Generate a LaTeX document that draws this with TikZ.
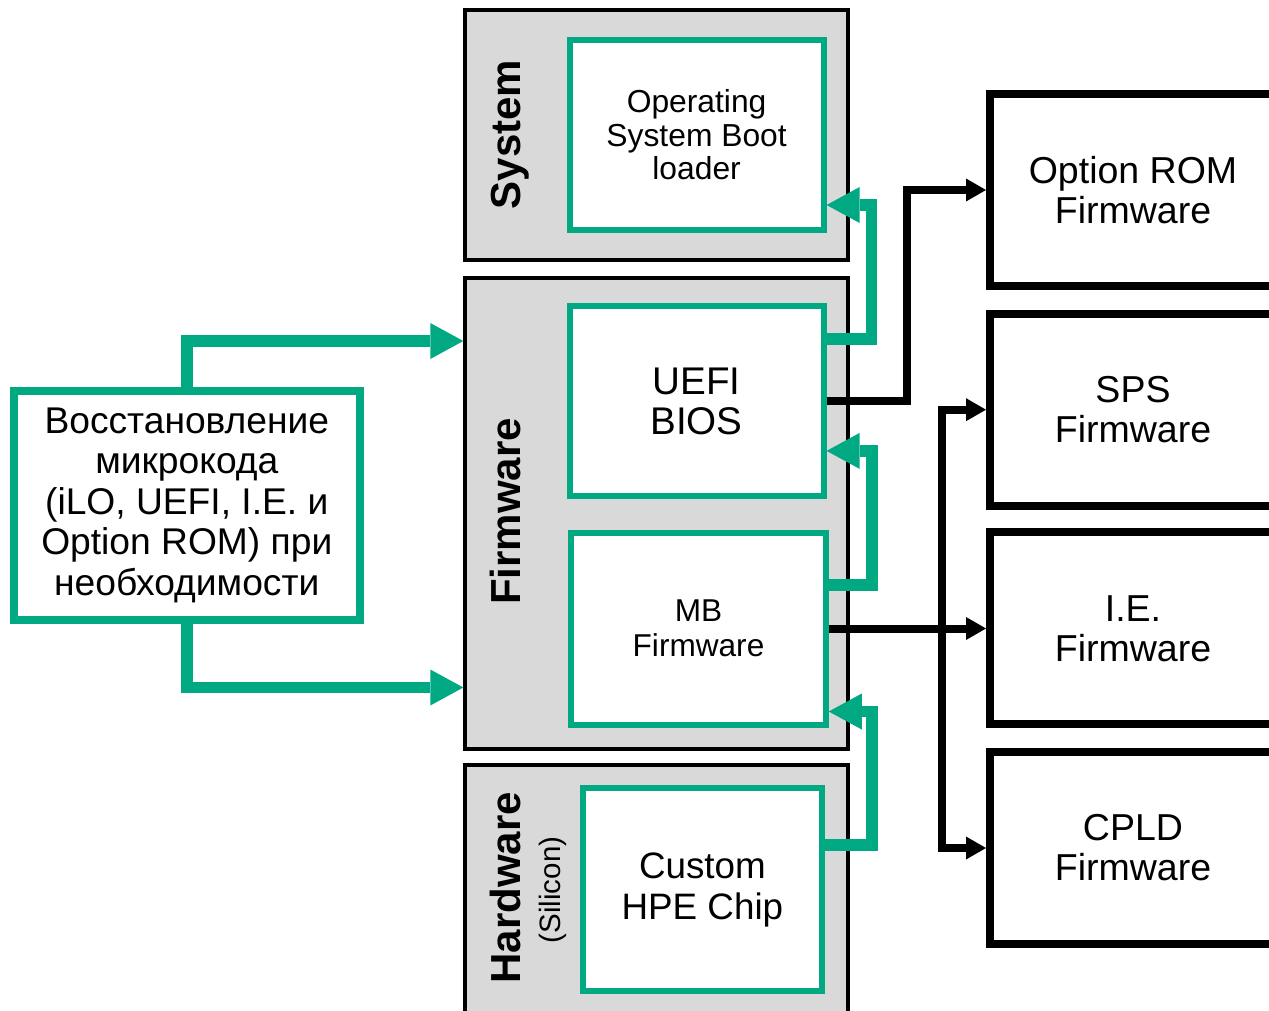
\documentclass[tikz,border=0pt]{standalone}
\usepackage{fontspec}
\setmainfont{Liberation Sans}
\usetikzlibrary{arrows.meta}
\definecolor{hpegreen}{HTML}{01A982}
\definecolor{laygray}{HTML}{D9D9D9}

\begin{document}
\begin{tikzpicture}[x=0.5pt,y=-0.5pt,
    layer/.style={draw=black,line width=2pt,fill=laygray,minimum width=191.1pt},
    laylabel/.style={rotate=90,anchor=base,inner sep=0pt,font=\fontsize{21}{24}\selectfont\bfseries},
    fwbox/.style={draw=hpegreen,line width=3pt,fill=white,align=center,inner sep=0pt},
    outbox/.style={draw=black,line width=4pt,fill=white,minimum width=143pt,minimum height=96pt,
        align=center,inner sep=0pt,font=\fontsize{18.75}{20}\selectfont},
    garrow/.style={draw=hpegreen,line width=5.8pt,-{Triangle[length=16.5pt,width=18pt,line width=0pt]}},
    barrow/.style={draw=black,line width=4pt,-{Triangle[length=10pt,width=11.5pt,line width=0pt]}}]
    \useasboundingbox (0,0) rectangle (1269,1011);

    % layers
    \node[layer,minimum height=124.5pt] (system) at (656.4,135) {};
    \node[layer,minimum height=235.35pt] (firmware) at (656.4,513.35) {};
    \node[layer,minimum height=137.65pt] (hardware) at (656.4,902.35) {};
    \node[laylabel] (systemlbl) at (520.5,134.5) {System};
    \node[laylabel] (firmwarelbl) at (520.5,511.5) {Firmware};
    \node[laylabel] (hardwarelbl) at (520.5,887.7) {Hardware};
    \node[rotate=90,anchor=base,inner sep=0pt,font=\fontsize{14.75}{17}\selectfont] (siliconlbl) at (560,890) {(Silicon)};

    % firmware parts
    \node[fwbox,minimum width=127pt,minimum height=95pt,font=\fontsize{15.9}{16.8}\selectfont] (os) at (696.6,135)
        {Operating\\System Boot\\loader};
    \node[fwbox,minimum width=127pt,minimum height=95.4pt,font=\fontsize{19.3}{20}\selectfont] (uefi) at (696.6,401)
        {UEFI\\BIOS};
    \node[fwbox,minimum width=127.25pt,minimum height=96pt,font=\fontsize{15.8}{17.5}\selectfont] (mbfw) at (698.5,628.5)
        {MB\\Firmware};
    \node[fwbox,minimum width=119.4pt,minimum height=101.5pt,font=\fontsize{18.4}{20.5}\selectfont] (chip) at (702.4,889.5)
        {Custom\\HPE Chip};
    \node[fwbox,line width=4pt,minimum width=172.85pt,minimum height=114.75pt,font=\fontsize{18.6}{20.3}\selectfont] (recov) at (186.8,505.3)
        {Восстановление\\микрокода\\(iLO, UEFI, I.E. и\\Option ROM) при\\необходимости};

    % other firmware
    \node[outbox] (optrom) at (1133,190) {Option ROM\\Firmware};
    \node[outbox] (sps) at (1133,409.7) {SPS\\Firmware};
    \node[outbox] (ie) at (1133,628.3) {I.E.\\Firmware};
    \node[outbox] (cpld) at (1133,848) {CPLD\\Firmware};

    % green
    \draw[garrow] (recov.north) |- ([yshift=-32.5pt]firmware.north west);
    \draw[garrow] (recov.south) |- ([yshift=31.6pt]firmware.south west);
    \draw[garrow] ([yshift=-18.25pt]uefi.north east) -- ++(22.4pt,0) |- ([yshift=14pt]os.south east);
    \draw[garrow] ([yshift=-27.85pt]mbfw.north east) -- ++(21.5pt,0) |- ([yshift=24.25pt]uefi.south east);
    \draw[garrow] ([yshift=-30.1pt]chip.north east) -- ++(23.5pt,0) |- ([yshift=8pt]mbfw.south east);

    % black
    \draw[barrow] (uefi.east) -- ++(40.25pt,0) |- (optrom.west);
    \draw[barrow] (mbfw.east) -- (mbfw.east -| ie.west);
    \coordinate (split) at ([xshift=56.75pt]mbfw.east);
    \draw[barrow] (split) |- (sps.west);
    \draw[barrow] (split) |- (cpld.west);
\end{tikzpicture}
\end{document}
